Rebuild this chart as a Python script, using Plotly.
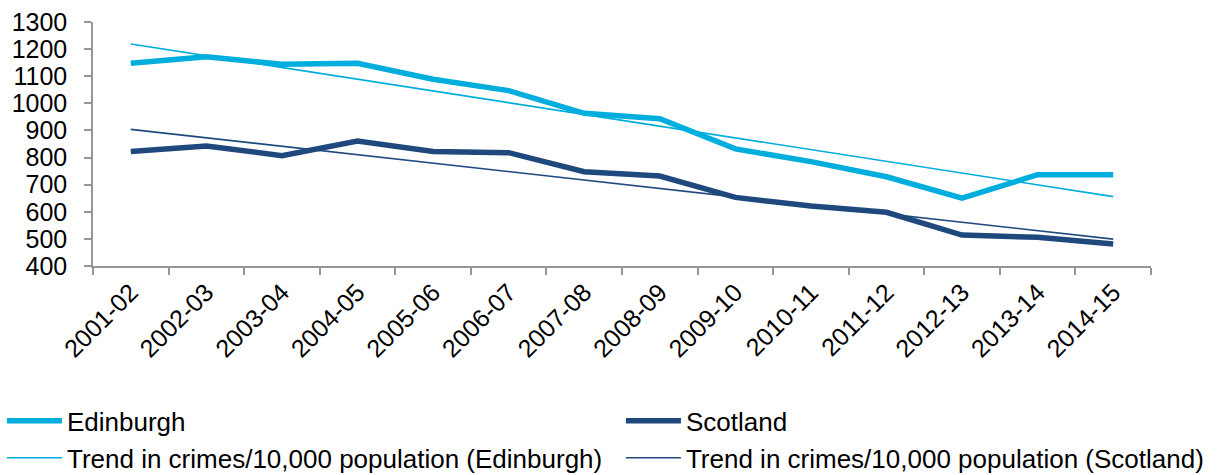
import plotly.graph_objects as go

# Recorded crime rates per 10,000 population
years = ["2001-02", "2002-03", "2003-04", "2004-05", "2005-06", "2006-07", "2007-08",
         "2008-09", "2009-10", "2010-11", "2011-12", "2012-13", "2013-14", "2014-15"]
edinburgh = [1148, 1172, 1144, 1148, 1089, 1047, 963, 943, 832, 785, 729, 650, 737, 737]
scotland = [822, 843, 807, 861, 822, 818, 748, 732, 653, 621, 598, 514, 506, 481]

# Linear trend lines, first and last year
trend_years = [years[0], years[-1]]
trend_edinburgh = [1219, 656]
trend_scotland = [904, 499]

light_blue = "#00AEDD"
dark_blue = "#1F497D"
axis_grey = "#969696"
font_family = "Liberation Sans, Arial, sans-serif"

fig = go.Figure()
fig.add_trace(go.Scatter(x=years, y=edinburgh, name="Edinburgh", mode="lines",
                         line=dict(color=light_blue, width=5.5), legend="legend"))
fig.add_trace(go.Scatter(x=years, y=scotland, name="Scotland", mode="lines",
                         line=dict(color=dark_blue, width=5.5), legend="legend2"))
fig.add_trace(go.Scatter(x=trend_years, y=trend_edinburgh,
                         name="Trend in crimes/10,000 population (Edinburgh)", mode="lines",
                         line=dict(color=light_blue, width=1.6), legend="legend3"))
fig.add_trace(go.Scatter(x=trend_years, y=trend_scotland,
                         name="Trend in crimes/10,000 population (Scotland)", mode="lines",
                         line=dict(color=dark_blue, width=1.6), legend="legend4"))

# One legend box per entry, laid out as a 2 x 2 grid in the bottom band of the figure
def legend_box(x, y):
    return dict(orientation="h", xref="container", yref="container",
                xanchor="left", yanchor="middle", x=x, y=y,
                font=dict(family=font_family, size=26, color="#000000"),
                itemwidth=55, bgcolor="rgba(0,0,0,0)", itemclick=False,
                itemdoubleclick=False)

col1, col2 = 0.0016, 0.504
row1, row2 = 0.114, 0.036

fig.update_layout(
    width=1232, height=475,
    margin=dict(l=93, r=81, t=22, b=209, autoexpand=False),
    paper_bgcolor="white", plot_bgcolor="white",
    font=dict(family=font_family, size=24, color="#000000"),
    showlegend=True,
    legend=legend_box(col1, row1),
    legend2=legend_box(col2, row1),
    legend3=legend_box(col1, row2),
    legend4=legend_box(col2, row2),
    xaxis=dict(
        type="category", range=[-0.5, 13.5], tickson="boundaries",
        showline=True, linecolor=axis_grey, linewidth=1.5,
        ticks="outside", ticklen=7, tickcolor=axis_grey, tickwidth=1.5,
        tickangle=-45, showgrid=False, zeroline=False, automargin=False,
        tickfont=dict(family=font_family, size=25, color="#000000"),
    ),
    yaxis=dict(
        range=[400, 1300], dtick=100, tick0=400,
        showline=True, linecolor=axis_grey, linewidth=1.5,
        ticks="outside", ticklen=7, tickcolor=axis_grey, tickwidth=1.5,
        showgrid=False, zeroline=False, ticklabelstandoff=12, automargin=False,
        tickfont=dict(family=font_family, size=25, color="#000000"),
    ),
)

fig.write_html("out.html")
